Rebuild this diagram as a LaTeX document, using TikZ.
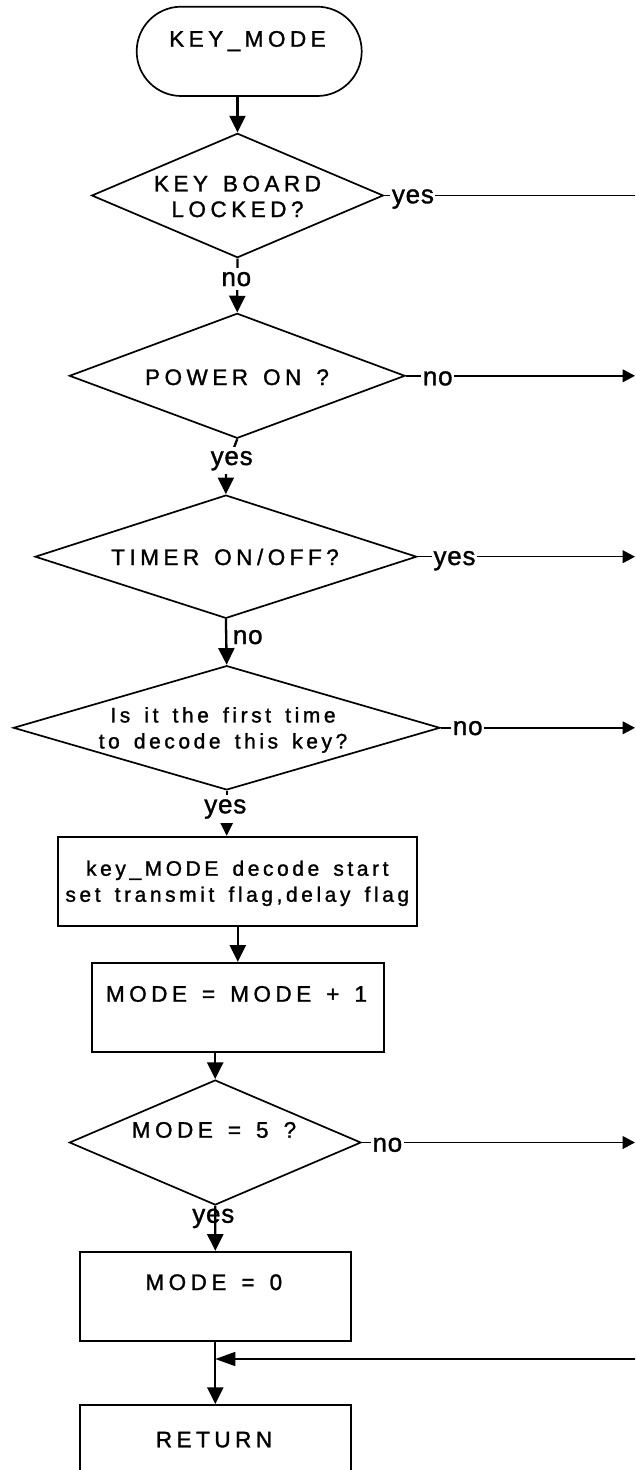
\documentclass[tikz,border=0pt]{standalone}
\usepackage{fontspec}
\setmainfont{Liberation Sans}
\newfontfamily\capfont[LetterSpace=20,WordSpace=1.4,FakeBold=1.3]{Liberation Sans}
\newfontfamily\mixfont[LetterSpace=17,WordSpace=1.5,FakeBold=1.3]{Liberation Sans}
\newfontfamily\labfont[LetterSpace=3,FakeBold=1.3]{Liberation Sans}
\usetikzlibrary{shapes.geometric,arrows.meta,calc}
\begin{document}
\begin{tikzpicture}[x=1pt,y=-1pt,
  shp/.style={draw, line width=1.7pt, inner sep=0pt},
  dia/.style={shp, diamond},
  rbox/.style={shp, rectangle},
  term/.style={shp, rectangle, rounded corners=44.5pt},
  captxt/.style={inner sep=0pt, font=\capfont\fontsize{22.5}{25.6}\selectfont, align=center},
  mixtxt/.style={inner sep=0pt, font=\mixfont\fontsize{21}{26}\selectfont, align=center},
  lab/.style={inner xsep=1.5pt, inner ysep=4pt, font=\labfont\fontsize{26}{28}\selectfont},
  wlab/.style={lab, fill=white},
  flow/.style={line width=2.3pt, -{Triangle[length=16.7pt,width=16pt]}},
  side/.style={line width=1.5pt, -{Triangle[length=12.3pt,width=12.7pt]}},
  back/.style={line width=1.5pt, -{Triangle[length=20pt,width=14pt]}},
  plain/.style={line width=1.5pt},
]
\useasboundingbox (0,0) rectangle (635,1470);
\clip (0,0) rectangle (635,1470);

% shapes
\node[term, minimum width=225pt, minimum height=89.3pt] (T) at (249.2,51.35) {};
\node[dia, minimum width=291.7pt, minimum height=124.4pt] (D1) at (237.5,195.5) {};
\node[dia, minimum width=335.7pt, minimum height=125pt] (D2) at (237.2,375.8) {};
\node[dia, minimum width=381.7pt, minimum height=123.3pt] (D3) at (225.9,556.7) {};
\node[dia, minimum width=426.7pt, minimum height=124.3pt] (D4) at (226.7,727.8) {};
\node[rbox, minimum width=359pt, minimum height=89.3pt] (B1) at (237.8,881.3) {};
\node[rbox, minimum width=292.3pt, minimum height=89pt] (B2) at (237.8,1007.2) {};
\node[dia, minimum width=291.7pt, minimum height=125pt] (D5) at (215.2,1142.5) {};
\node[rbox, minimum width=270.7pt, minimum height=89pt] (B3) at (215.3,1296.2) {};
\node[rbox, minimum width=270.7pt, minimum height=89pt] (B4) at (215.3,1449.5) {};

% texts
\node[captxt, anchor=base] (tT) at (247.5,46.7) {KEY\_MODE};
\node[captxt] (tD1) at (237.5,196.5) {KEY BOARD\\LOCKED?};
\node[captxt, anchor=base] (tD2) at (237,385) {POWER ON ?};
\node[captxt, anchor=base] (tD3) at (225,565) {TIMER ON/OFF?};
\node[mixtxt] (tD4) at (223,730) {Is it the first time\\to decode this key?};
\node[mixtxt] (tB1) at (237.3,883.3) {key\_MODE decode start\\set transmit flag,delay flag};
\node[captxt, anchor=base] (tB2) at (236.5,1001.7) {MODE = MODE + 1};
\node[captxt, anchor=base] (tD5) at (214,1137.7) {MODE = 5 ?};
\node[captxt, anchor=base] (tB3) at (213.8,1290) {MODE = 0};
\node[captxt, anchor=base] (tB4) at (214,1447.3) {RETURN};

% free ends at the right edge
\coordinate (E1) at (640,195.5);
\coordinate (E2) at (635,375.8);
\coordinate (E3) at (635,556.7);
\coordinate (E4) at (635,727.8);
\coordinate (E5) at (635,1142.5);
\coordinate (E6) at (640,1359);

% connectors
\draw[flow] (D1.north |- T.south) -- (D1.north);
\draw[flow] (D1.south) -- (D2.north);
\draw[flow] (D2.south) -- ([yshift=25pt]D3.north) -- (D3.north);
\draw[flow] (D3.south) -- (D4.north);
\draw[flow] (D4.south) -- (D4.south |- B1.north);
\draw[flow] (B1.south) -- (B2.north);
\draw[flow] (D5.north |- B2.south) -- (D5.north);
\draw[flow] (D5.south) -- (B3.north);
\draw[flow] (B3.south) -- (B4.north);
\draw[plain] (D1.east) -- (E1);
\draw[side] (D2.east) -- (E2);
\draw[side] (D3.east) -- (E3);
\draw[side] (D4.east) -- (E4);
\draw[side] (D5.east) -- (E5);
\draw[back] (E6) -- (B3.south |- E6);

% branch labels
\node[wlab, anchor=base west] (L1) at (390.2,203.3) {yes};
\node[wlab, anchor=base] (L2) at (236.3,286) {no};
\node[wlab, anchor=base west] (L3) at (421.2,385.3) {no};
\node[wlab, anchor=base] (L4) at (231.7,465) {yes};
\node[wlab, anchor=base west] (L5) at (431.8,565) {yes};
\node[lab, anchor=base west, inner xsep=0pt] (L6) at (232.7,644) {no};
\node[wlab, anchor=base west] (L7) at (451.2,735) {no};
\node[wlab, anchor=base] (L8) at (225.3,813.3) {yes};
\node[wlab, anchor=base west] (L9) at (370.8,1151.7) {no};
\node[lab, anchor=base] (L10) at (213.3,1222.7) {yes};
\end{tikzpicture}
\end{document}
